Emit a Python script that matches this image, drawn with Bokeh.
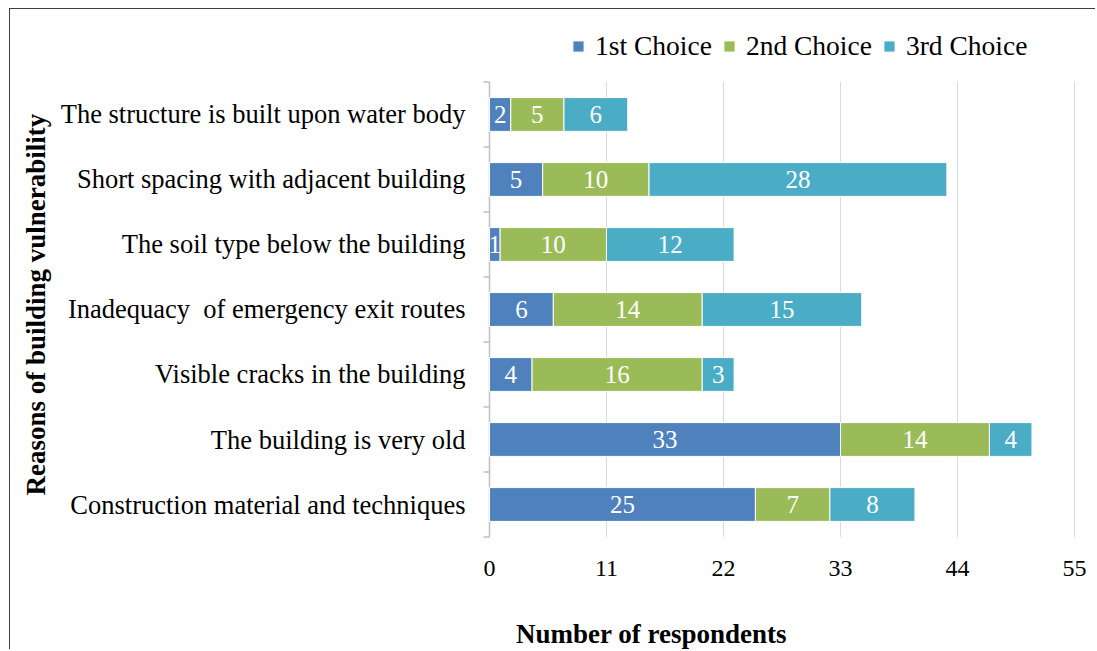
import math
from bokeh.plotting import figure
from bokeh.models import FixedTicker, Legend, LegendItem, Title, Label, ColumnDataSource, Range1d
from bokeh.core.properties import value
from bokeh.embed import file_html
from bokeh.resources import INLINE

categories = [
    "The structure is built upon water body",
    "Short spacing with adjacent building",
    "The soil type below the building",
    "Inadequacy \u00a0of emergency exit routes",
    "Visible cracks in the building",
    "The building is very old",
    "Construction material and techniques",
]
first_choice = [2, 5, 1, 6, 4, 33, 25]
second_choice = [5, 10, 10, 14, 16, 14, 7]
third_choice = [6, 28, 12, 15, 3, 4, 8]
series_names = ["1st Choice", "2nd Choice", "3rd Choice"]
x_ticks = [0, 11, 22, 33, 44, 55]

colors = ["#4F81BD", "#9BBB59", "#4BACC6"]
FONT = "Liberation Serif"

n = len(categories)
ypos = [n - 1 - i + 0.5 for i in range(n)]
bounds = list(range(n + 1))

# frame extends around the category bands to host legend, tick labels and title
p = figure(width=1086, height=641, output_backend="svg", toolbar_location=None,
           x_range=Range1d(-1.128, 56.128), y_range=Range1d(-1.746, n + 0.992),
           min_border_left=467, min_border_right=10, min_border_top=8, min_border_bottom=0)
p.outline_line_color = None
p.styles = {"border-left": "1.5px solid #404040", "border-top": "1.5px solid #404040",
            "margin-left": "9px", "margin-top": "8px"}

# vertical gridlines, y axis line and category boundary ticks
p.segment(x0=x_ticks, x1=x_ticks, y0=[0] * len(x_ticks), y1=[n] * len(x_ticks),
          line_color="#D9D9D9", line_width=1, level="underlay")
p.segment(x0=[0], x1=[0], y0=[0], y1=[n], line_color="#BFBFBF", line_width=1.5,
          level="underlay")
p.segment(x0=[-0.56] * len(bounds), x1=[0] * len(bounds), y0=bounds, y1=bounds,
          line_color="#BFBFBF", line_width=1.5, level="underlay")

series = [first_choice, second_choice, third_choice]
renderers = []
lefts = [0] * n
for k, vals in enumerate(series):
    rights = [l + v for l, v in zip(lefts, vals)]
    mids = [(l + r) / 2 for l, r in zip(lefts, rights)]
    src = ColumnDataSource(dict(y=ypos, left=lefts, right=rights, mid=mids,
                                lab=[str(v) for v in vals]))
    r = p.hbar(y="y", left="left", right="right", height=0.52, source=src,
               fill_color=colors[k], line_color="white", line_width=1)
    renderers.append(r)
    p.text(x="mid", y="y", text="lab", source=src, text_color="white",
           text_font=value(FONT), text_font_size="25px", text_align="center",
           text_baseline="middle")
    lefts = rights

# x axis, pinned at the bottom of the category bands
p.xaxis.fixed_location = 0
p.xaxis.ticker = FixedTicker(ticks=x_ticks)
p.xaxis.axis_line_color = None
p.xaxis.major_tick_line_color = None
p.xaxis.minor_tick_line_color = None
p.xaxis.major_label_text_font = FONT
p.xaxis.major_label_text_font_size = "24px"
p.xaxis.major_label_text_color = "#000000"
p.xaxis.major_label_standoff = 18
p.xgrid.grid_line_color = None
p.ygrid.grid_line_color = None

# y axis (category labels)
p.yaxis.ticker = FixedTicker(ticks=ypos)
p.yaxis.major_label_overrides = {y: c for y, c in zip(ypos, categories)}
p.yaxis.axis_line_color = None
p.yaxis.major_tick_line_color = None
p.yaxis.minor_tick_line_color = None
p.yaxis.major_tick_out = 0
p.yaxis.major_label_text_font = FONT
p.yaxis.major_label_text_font_size = "26.5px"
p.yaxis.major_label_text_color = "#000000"
p.yaxis.major_label_standoff = 12

legend = Legend(items=[LegendItem(label=s, renderers=[r]) for s, r in zip(series_names, renderers)],
                orientation="horizontal", location=(94, 588),
                label_text_font=FONT, label_text_font_size="27.5px", label_text_color="#000000",
                glyph_width=14, glyph_height=14, label_standoff=10, spacing=10,
                padding=0, margin=0, border_line_color=None, background_fill_alpha=0)
p.add_layout(legend, "center")

p.add_layout(Label(x=38.5, y=16.5, x_units="screen", y_units="screen",
                   text="Number of respondents", text_font=FONT, text_font_size="27px",
                   text_font_style="bold", text_color="#000000", text_align="left",
                   text_baseline="middle"))
p.add_layout(Title(text="Reasons of building vulnerability", text_font=FONT,
                   text_font_size="27px", text_font_style="bold", text_color="#000000",
                   align="left", offset=155, standoff=14), "left")

open("out.html", "w").write(file_html(p, INLINE))
